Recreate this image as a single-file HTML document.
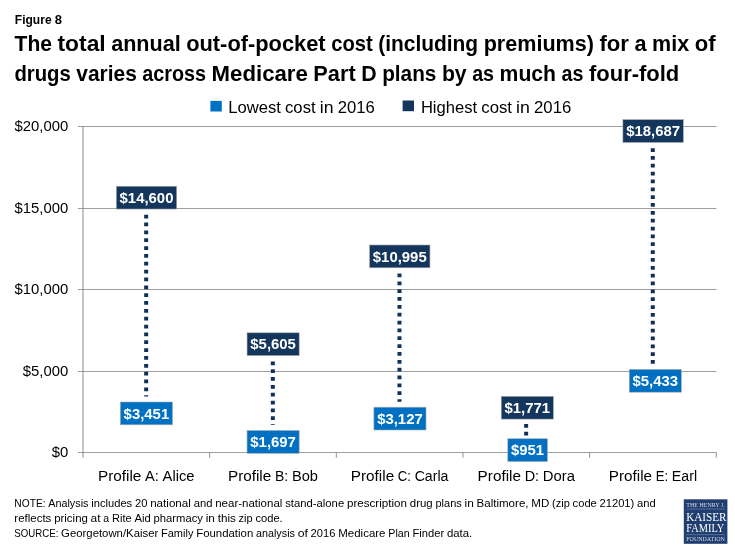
<!DOCTYPE html><html><head><meta charset="utf-8"><title>Figure 8</title><style>html,body{margin:0;padding:0;background:#fff}body{width:735px;height:551px;overflow:hidden}svg{display:block;will-change:transform}text{font-family:"Liberation Sans",sans-serif}.b{font-weight:bold}.s{font-family:"Liberation Serif",serif}</style></head><body>
<svg width="735" height="551" viewBox="0 0 735 551">
<rect width="735" height="551" fill="#fff"/>
<text x="14.80" y="24.25" font-size="12.61" class="b" fill="#000" textLength="36.78" lengthAdjust="spacingAndGlyphs">Figure</text>
<text x="54.81" y="24.25" font-size="12.61" class="b" fill="#000" textLength="7.25" lengthAdjust="spacingAndGlyphs">8</text>
<text x="14.50" y="51.25" font-size="21.63" class="b" fill="#000" textLength="37.49" lengthAdjust="spacingAndGlyphs">The</text>
<text x="57.51" y="51.25" font-size="21.63" class="b" fill="#000" textLength="48.16" lengthAdjust="spacingAndGlyphs">total</text>
<text x="111.19" y="51.25" font-size="21.63" class="b" fill="#000" textLength="69.48" lengthAdjust="spacingAndGlyphs">annual</text>
<text x="186.18" y="51.25" font-size="21.63" class="b" fill="#000" textLength="139.47" lengthAdjust="spacingAndGlyphs">out-of-pocket</text>
<text x="331.17" y="51.25" font-size="21.63" class="b" fill="#000" textLength="41.57" lengthAdjust="spacingAndGlyphs">cost</text>
<text x="378.26" y="51.25" font-size="21.63" class="b" fill="#000" textLength="99.88" lengthAdjust="spacingAndGlyphs">(including</text>
<text x="483.66" y="51.25" font-size="21.63" class="b" fill="#000" textLength="110.26" lengthAdjust="spacingAndGlyphs">premiums)</text>
<text x="599.45" y="51.25" font-size="21.63" class="b" fill="#000" textLength="29.53" lengthAdjust="spacingAndGlyphs">for</text>
<text x="634.49" y="51.25" font-size="21.63" class="b" fill="#000" textLength="12.06" lengthAdjust="spacingAndGlyphs">a</text>
<text x="652.07" y="51.25" font-size="21.63" class="b" fill="#000" textLength="37.07" lengthAdjust="spacingAndGlyphs">mix</text>
<text x="694.67" y="51.25" font-size="21.63" class="b" fill="#000" textLength="20.86" lengthAdjust="spacingAndGlyphs">of</text>
<text x="14.40" y="80.5" font-size="21.63" class="b" fill="#000" textLength="56.37" lengthAdjust="spacingAndGlyphs">drugs</text>
<text x="76.31" y="80.5" font-size="21.63" class="b" fill="#000" textLength="60.48" lengthAdjust="spacingAndGlyphs">varies</text>
<text x="142.32" y="80.5" font-size="21.63" class="b" fill="#000" textLength="63.74" lengthAdjust="spacingAndGlyphs">across</text>
<text x="211.60" y="80.5" font-size="21.63" class="b" fill="#000" textLength="96.24" lengthAdjust="spacingAndGlyphs">Medicare</text>
<text x="313.37" y="80.5" font-size="21.63" class="b" fill="#000" textLength="42.31" lengthAdjust="spacingAndGlyphs">Part</text>
<text x="361.22" y="80.5" font-size="21.63" class="b" fill="#000" textLength="15.43" lengthAdjust="spacingAndGlyphs">D</text>
<text x="382.18" y="80.5" font-size="21.63" class="b" fill="#000" textLength="54.19" lengthAdjust="spacingAndGlyphs">plans</text>
<text x="441.91" y="80.5" font-size="21.63" class="b" fill="#000" textLength="24.76" lengthAdjust="spacingAndGlyphs">by</text>
<text x="472.20" y="80.5" font-size="21.63" class="b" fill="#000" textLength="21.87" lengthAdjust="spacingAndGlyphs">as</text>
<text x="499.60" y="80.5" font-size="21.63" class="b" fill="#000" textLength="56.44" lengthAdjust="spacingAndGlyphs">much</text>
<text x="561.58" y="80.5" font-size="21.63" class="b" fill="#000" textLength="21.87" lengthAdjust="spacingAndGlyphs">as</text>
<text x="588.98" y="80.5" font-size="21.63" class="b" fill="#000" textLength="90.34" lengthAdjust="spacingAndGlyphs">four-fold</text>
<rect x="210.4" y="100.9" width="11.4" height="10.6" fill="#0071c2"/>
<text x="228.20" y="112.6" font-size="16.21" fill="#000" textLength="52.70" lengthAdjust="spacingAndGlyphs">Lowest</text>
<text x="285.02" y="112.6" font-size="16.21" fill="#000" textLength="30.60" lengthAdjust="spacingAndGlyphs">cost</text>
<text x="319.75" y="112.6" font-size="16.21" fill="#000" textLength="13.77" lengthAdjust="spacingAndGlyphs">in</text>
<text x="337.65" y="112.6" font-size="16.21" fill="#000" textLength="37.03" lengthAdjust="spacingAndGlyphs">2016</text>
<rect x="402.6" y="100.5" width="11.4" height="10.7" fill="#14365c"/>
<text x="420.90" y="112.6" font-size="16.21" fill="#000" textLength="56.26" lengthAdjust="spacingAndGlyphs">Highest</text>
<text x="481.30" y="112.6" font-size="16.21" fill="#000" textLength="30.70" lengthAdjust="spacingAndGlyphs">cost</text>
<text x="516.14" y="112.6" font-size="16.21" fill="#000" textLength="13.81" lengthAdjust="spacingAndGlyphs">in</text>
<text x="534.09" y="112.6" font-size="16.21" fill="#000" textLength="37.14" lengthAdjust="spacingAndGlyphs">2016</text>
<line x1="77.8" x2="716.4" y1="126.5" y2="126.5" stroke="#868686" stroke-width="0.8"/>
<line x1="77.8" x2="716.4" y1="208.5" y2="208.5" stroke="#868686" stroke-width="0.8"/>
<line x1="77.8" x2="716.4" y1="289.5" y2="289.5" stroke="#868686" stroke-width="0.8"/>
<line x1="77.8" x2="716.4" y1="371.5" y2="371.5" stroke="#868686" stroke-width="0.8"/>
<line x1="77.8" x2="716.4" y1="452.5" y2="452.5" stroke="#868686" stroke-width="0.8"/>
<line x1="83.0" x2="83.0" y1="126.2" y2="457.7" stroke="#868686" stroke-width="0.97"/>
<line x1="209.65" x2="209.65" y1="452.5" y2="457.7" stroke="#868686" stroke-width="0.9"/>
<line x1="336.30" x2="336.30" y1="452.5" y2="457.7" stroke="#868686" stroke-width="0.9"/>
<line x1="462.95" x2="462.95" y1="452.5" y2="457.7" stroke="#868686" stroke-width="0.9"/>
<line x1="589.60" x2="589.60" y1="452.5" y2="457.7" stroke="#868686" stroke-width="0.9"/>
<line x1="716.25" x2="716.25" y1="452.5" y2="457.7" stroke="#868686" stroke-width="0.9"/>
<text x="14.54" y="131.3" font-size="14.41" fill="#000" textLength="53.76" lengthAdjust="spacingAndGlyphs">$20,000</text>
<text x="14.54" y="212.8" font-size="14.41" fill="#000" textLength="53.76" lengthAdjust="spacingAndGlyphs">$15,000</text>
<text x="14.54" y="294.3" font-size="14.41" fill="#000" textLength="53.76" lengthAdjust="spacingAndGlyphs">$10,000</text>
<text x="22.82" y="375.8" font-size="14.41" fill="#000" textLength="45.48" lengthAdjust="spacingAndGlyphs">$5,000</text>
<text x="51.74" y="457.3" font-size="14.41" fill="#000" textLength="16.56" lengthAdjust="spacingAndGlyphs">$0</text>
<text x="98.06" y="480.6" font-size="14.41" fill="#000" textLength="43.34" lengthAdjust="spacingAndGlyphs">Profile</text>
<text x="145.09" y="480.6" font-size="14.41" fill="#000" textLength="13.83" lengthAdjust="spacingAndGlyphs">A:</text>
<text x="162.61" y="480.6" font-size="14.41" fill="#000" textLength="31.97" lengthAdjust="spacingAndGlyphs">Alice</text>
<text x="227.95" y="480.6" font-size="14.41" fill="#000" textLength="43.34" lengthAdjust="spacingAndGlyphs">Profile</text>
<text x="274.98" y="480.6" font-size="14.41" fill="#000" textLength="13.26" lengthAdjust="spacingAndGlyphs">B:</text>
<text x="291.93" y="480.6" font-size="14.41" fill="#000" textLength="26.06" lengthAdjust="spacingAndGlyphs">Bob</text>
<text x="350.83" y="480.6" font-size="14.41" fill="#000" textLength="43.34" lengthAdjust="spacingAndGlyphs">Profile</text>
<text x="397.86" y="480.6" font-size="14.41" fill="#000" textLength="13.08" lengthAdjust="spacingAndGlyphs">C:</text>
<text x="414.63" y="480.6" font-size="14.41" fill="#000" textLength="33.79" lengthAdjust="spacingAndGlyphs">Carla</text>
<text x="477.62" y="480.6" font-size="14.41" fill="#000" textLength="43.34" lengthAdjust="spacingAndGlyphs">Profile</text>
<text x="524.65" y="480.6" font-size="14.41" fill="#000" textLength="14.42" lengthAdjust="spacingAndGlyphs">D:</text>
<text x="542.76" y="480.6" font-size="14.41" fill="#000" textLength="32.17" lengthAdjust="spacingAndGlyphs">Dora</text>
<text x="608.78" y="480.6" font-size="14.41" fill="#000" textLength="43.34" lengthAdjust="spacingAndGlyphs">Profile</text>
<text x="655.81" y="480.6" font-size="14.41" fill="#000" textLength="12.35" lengthAdjust="spacingAndGlyphs">E:</text>
<text x="671.84" y="480.6" font-size="14.41" fill="#000" textLength="25.23" lengthAdjust="spacingAndGlyphs">Earl</text>
<line x1="146.17" x2="146.17" y1="214.77" y2="396.50" stroke="#10305a" stroke-width="4" stroke-dasharray="3.75 4.1"/>
<rect x="116.31" y="186.25" width="60.39" height="22.8" fill="#14365c" stroke="#a9a9a9" stroke-width="0.6"/>
<text x="119.56" y="202.75" font-size="14.41" class="b" fill="#fff" textLength="53.89" lengthAdjust="spacingAndGlyphs">$14,600</text>
<rect x="120.35" y="402.00" width="52.11" height="22.8" fill="#0071c2" stroke="#a9a9a9" stroke-width="0.6"/>
<text x="123.60" y="418.5" font-size="14.41" class="b" fill="#fff" textLength="45.61" lengthAdjust="spacingAndGlyphs">$3,451</text>
<line x1="272.83" x2="272.83" y1="361.39" y2="425.09" stroke="#10305a" stroke-width="4" stroke-dasharray="3.75 4.1"/>
<rect x="247.05" y="332.80" width="52.11" height="22.8" fill="#14365c" stroke="#a9a9a9" stroke-width="0.6"/>
<text x="250.30" y="349.3" font-size="14.41" class="b" fill="#fff" textLength="45.61" lengthAdjust="spacingAndGlyphs">$5,605</text>
<rect x="247.05" y="430.50" width="52.11" height="22.8" fill="#0071c2" stroke="#a9a9a9" stroke-width="0.6"/>
<text x="250.30" y="447.0" font-size="14.41" class="b" fill="#fff" textLength="45.61" lengthAdjust="spacingAndGlyphs">$1,697</text>
<line x1="399.48" x2="399.48" y1="273.53" y2="401.78" stroke="#10305a" stroke-width="4" stroke-dasharray="3.75 4.1"/>
<rect x="369.56" y="245.00" width="60.39" height="22.8" fill="#14365c" stroke="#a9a9a9" stroke-width="0.6"/>
<text x="372.81" y="261.5" font-size="14.41" class="b" fill="#fff" textLength="53.89" lengthAdjust="spacingAndGlyphs">$10,995</text>
<rect x="373.90" y="407.20" width="52.11" height="22.8" fill="#0071c2" stroke="#a9a9a9" stroke-width="0.6"/>
<text x="377.15" y="423.7" font-size="14.41" class="b" fill="#fff" textLength="45.61" lengthAdjust="spacingAndGlyphs">$3,127</text>
<line x1="526.13" x2="526.13" y1="423.88" y2="437.25" stroke="#10305a" stroke-width="4" stroke-dasharray="3.75 4.1"/>
<rect x="501.25" y="396.30" width="52.11" height="22.8" fill="#14365c" stroke="#a9a9a9" stroke-width="0.6"/>
<text x="504.50" y="412.8" font-size="14.41" class="b" fill="#fff" textLength="45.61" lengthAdjust="spacingAndGlyphs">$1,771</text>
<rect x="507.79" y="438.75" width="39.62" height="22.8" fill="#0071c2" stroke="#a9a9a9" stroke-width="0.6"/>
<text x="511.04" y="455.25" font-size="14.41" class="b" fill="#fff" textLength="33.12" lengthAdjust="spacingAndGlyphs">$951</text>
<line x1="652.78" x2="652.78" y1="148.15" y2="364.19" stroke="#10305a" stroke-width="4" stroke-dasharray="3.75 4.1"/>
<rect x="622.91" y="119.65" width="60.39" height="22.8" fill="#14365c" stroke="#a9a9a9" stroke-width="0.6"/>
<text x="626.16" y="136.15" font-size="14.41" class="b" fill="#fff" textLength="53.89" lengthAdjust="spacingAndGlyphs">$18,687</text>
<rect x="629.25" y="369.40" width="52.11" height="22.8" fill="#0071c2" stroke="#a9a9a9" stroke-width="0.6"/>
<text x="632.50" y="385.9" font-size="14.41" class="b" fill="#fff" textLength="45.61" lengthAdjust="spacingAndGlyphs">$5,433</text>
<text x="14.30" y="507.3" font-size="10.81" fill="#000" textLength="31.25" lengthAdjust="spacingAndGlyphs">NOTE:</text>
<text x="48.32" y="507.3" font-size="10.81" fill="#000" textLength="40.13" lengthAdjust="spacingAndGlyphs">Analysis</text>
<text x="91.22" y="507.3" font-size="10.81" fill="#000" textLength="40.98" lengthAdjust="spacingAndGlyphs">includes</text>
<text x="134.96" y="507.3" font-size="10.81" fill="#000" textLength="12.42" lengthAdjust="spacingAndGlyphs">20</text>
<text x="150.15" y="507.3" font-size="10.81" fill="#000" textLength="40.77" lengthAdjust="spacingAndGlyphs">national</text>
<text x="193.69" y="507.3" font-size="10.81" fill="#000" textLength="18.73" lengthAdjust="spacingAndGlyphs">and</text>
<text x="215.19" y="507.3" font-size="10.81" fill="#000" textLength="67.19" lengthAdjust="spacingAndGlyphs">near-national</text>
<text x="285.15" y="507.3" font-size="10.81" fill="#000" textLength="59.03" lengthAdjust="spacingAndGlyphs">stand-alone</text>
<text x="346.95" y="507.3" font-size="10.81" fill="#000" textLength="60.09" lengthAdjust="spacingAndGlyphs">prescription</text>
<text x="409.80" y="507.3" font-size="10.81" fill="#000" textLength="22.91" lengthAdjust="spacingAndGlyphs">drug</text>
<text x="435.48" y="507.3" font-size="10.81" fill="#000" textLength="26.33" lengthAdjust="spacingAndGlyphs">plans</text>
<text x="464.57" y="507.3" font-size="10.81" fill="#000" textLength="9.24" lengthAdjust="spacingAndGlyphs">in</text>
<text x="476.58" y="507.3" font-size="10.81" fill="#000" textLength="51.93" lengthAdjust="spacingAndGlyphs">Baltimore,</text>
<text x="531.27" y="507.3" font-size="10.81" fill="#000" textLength="18.01" lengthAdjust="spacingAndGlyphs">MD</text>
<text x="552.05" y="507.3" font-size="10.81" fill="#000" textLength="17.79" lengthAdjust="spacingAndGlyphs">(zip</text>
<text x="572.61" y="507.3" font-size="10.81" fill="#000" textLength="24.17" lengthAdjust="spacingAndGlyphs">code</text>
<text x="599.54" y="507.3" font-size="10.81" fill="#000" textLength="34.77" lengthAdjust="spacingAndGlyphs">21201)</text>
<text x="637.08" y="507.3" font-size="10.81" fill="#000" textLength="18.73" lengthAdjust="spacingAndGlyphs">and</text>
<text x="14.30" y="522.0" font-size="10.81" fill="#000" textLength="37.09" lengthAdjust="spacingAndGlyphs">reflects</text>
<text x="54.16" y="522.0" font-size="10.81" fill="#000" textLength="33.70" lengthAdjust="spacingAndGlyphs">pricing</text>
<text x="90.63" y="522.0" font-size="10.81" fill="#000" textLength="9.97" lengthAdjust="spacingAndGlyphs">at</text>
<text x="103.37" y="522.0" font-size="10.81" fill="#000" textLength="5.87" lengthAdjust="spacingAndGlyphs">a</text>
<text x="112.01" y="522.0" font-size="10.81" fill="#000" textLength="19.66" lengthAdjust="spacingAndGlyphs">Rite</text>
<text x="134.44" y="522.0" font-size="10.81" fill="#000" textLength="16.33" lengthAdjust="spacingAndGlyphs">Aid</text>
<text x="153.53" y="522.0" font-size="10.81" fill="#000" textLength="49.39" lengthAdjust="spacingAndGlyphs">pharmacy</text>
<text x="205.69" y="522.0" font-size="10.81" fill="#000" textLength="9.24" lengthAdjust="spacingAndGlyphs">in</text>
<text x="217.70" y="522.0" font-size="10.81" fill="#000" textLength="18.13" lengthAdjust="spacingAndGlyphs">this</text>
<text x="238.60" y="522.0" font-size="10.81" fill="#000" textLength="14.08" lengthAdjust="spacingAndGlyphs">zip</text>
<text x="255.44" y="522.0" font-size="10.81" fill="#000" textLength="27.26" lengthAdjust="spacingAndGlyphs">code.</text>
<text x="14.30" y="536.6" font-size="10.81" fill="#000" textLength="44.04" lengthAdjust="spacingAndGlyphs">SOURCE:</text>
<text x="61.11" y="536.6" font-size="10.81" fill="#000" textLength="97.12" lengthAdjust="spacingAndGlyphs">Georgetown/Kaiser</text>
<text x="160.99" y="536.6" font-size="10.81" fill="#000" textLength="32.44" lengthAdjust="spacingAndGlyphs">Family</text>
<text x="196.20" y="536.6" font-size="10.81" fill="#000" textLength="57.04" lengthAdjust="spacingAndGlyphs">Foundation</text>
<text x="256.00" y="536.6" font-size="10.81" fill="#000" textLength="38.91" lengthAdjust="spacingAndGlyphs">analysis</text>
<text x="297.68" y="536.6" font-size="10.81" fill="#000" textLength="10.19" lengthAdjust="spacingAndGlyphs">of</text>
<text x="310.64" y="536.6" font-size="10.81" fill="#000" textLength="24.84" lengthAdjust="spacingAndGlyphs">2016</text>
<text x="338.25" y="536.6" font-size="10.81" fill="#000" textLength="47.24" lengthAdjust="spacingAndGlyphs">Medicare</text>
<text x="388.26" y="536.6" font-size="10.81" fill="#000" textLength="21.44" lengthAdjust="spacingAndGlyphs">Plan</text>
<text x="412.46" y="536.6" font-size="10.81" fill="#000" textLength="31.67" lengthAdjust="spacingAndGlyphs">Finder</text>
<text x="446.90" y="536.6" font-size="10.81" fill="#000" textLength="25.36" lengthAdjust="spacingAndGlyphs">data.</text>
<rect x="683.8" y="499.3" width="43.6" height="44.5" fill="#203e70"/>
<text x="686.30" y="507.2" font-size="5.60" class="s" fill="#d4dbe8" textLength="38.50" lengthAdjust="spacingAndGlyphs">THE HENRY J.</text>
<line x1="686.3" x2="724.8" y1="509.0" y2="509.0" stroke="#8fa3c4" stroke-width="0.5"/>
<text x="686.20" y="520.7" font-size="12.50" class="s" fill="#fff" textLength="40.40" lengthAdjust="spacingAndGlyphs">KAISER</text>
<text x="686.20" y="532.2" font-size="12.50" class="s" fill="#fff" textLength="38.00" lengthAdjust="spacingAndGlyphs">FAMILY</text>
<line x1="686.3" x2="724.8" y1="534.7" y2="534.7" stroke="#8fa3c4" stroke-width="0.5"/>
<text x="686.30" y="540.9" font-size="5.20" class="s" fill="#d4dbe8" textLength="38.50" lengthAdjust="spacingAndGlyphs">FOUNDATION</text>
</svg></body></html>
